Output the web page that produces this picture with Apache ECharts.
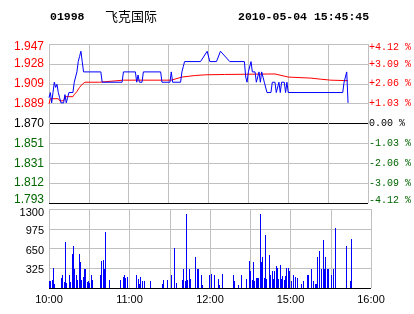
<!DOCTYPE html>
<html>
<head>
<meta charset="utf-8">
<script src="https://cdn.jsdelivr.net/npm/echarts@6/dist/echarts.min.js"></script>
<style>html,body{margin:0;padding:0;background:#fff;}#c{width:414px;height:314px;}</style>
</head>
<body>
<div id="c"></div>
<script>
// ---- header text ----
const stockCode = '01998';
const stockName = '飞克国际';
const stamp = '2010-05-04 15:45:45';

// ---- axis ticks ----
const prevClose = 1.870;
const priceMin = 1.79296, priceMax = 1.94704, priceStep = 0.01926;
const priceTicks = ['1.793', '1.812', '1.831', '1.851', '1.870', '1.889', '1.909', '1.928', '1.947'];
const pctMin = -4.12, pctMax = 4.12, pctStep = 1.03;
const pctTicks = ['-4.12 %', '-3.09 %', '-2.06 %', '-1.03 %', '0.00 %', '+1.03 %', '+2.06 %', '+3.09 %', '+4.12 %'];
const volMax = 1300, volStep = 325;
const volTicks = ['', '325', '650', '975', '1300'];
const timeMax = 240, timeStep = 30; // trading minutes from 10:00 (12:30 joins 14:30)
const timeTicks = ['10:00', '', '11:00', '', '12:00', '', '15:00', '', '16:00'];

// ---- price (blue) : minute index, price ----
const priceMinute = [0, 1, 2, 3, 4, 5, 6, 7, 8, 9, 11, 12, 13, 14, 15, 18, 19, 20, 21, 22, 23, 24, 25, 26, 39, 40, 55, 56, 65, 66, 67, 68, 70, 71, 84, 85, 91, 92, 93, 99, 100, 101, 102, 114, 119, 121, 126, 129, 136, 147, 148, 149, 150, 152, 153, 155, 156, 157, 158, 159, 160, 161, 162, 163, 164, 167, 168, 170, 171, 172, 173, 174, 175, 177, 178, 179, 180, 221, 222, 223, 224, 225];
const priceValue = [1.895, 1.900, 1.890, 1.900, 1.910, 1.905, 1.908, 1.900, 1.895, 1.890, 1.890, 1.898, 1.890, 1.895, 1.900, 1.900, 1.910, 1.910, 1.920, 1.930, 1.935, 1.940, 1.930, 1.920, 1.920, 1.910, 1.910, 1.920, 1.920, 1.910, 1.917, 1.910, 1.910, 1.920, 1.920, 1.910, 1.910, 1.920, 1.910, 1.910, 1.920, 1.925, 1.930, 1.930, 1.940, 1.930, 1.930, 1.940, 1.930, 1.930, 1.915, 1.910, 1.920, 1.930, 1.920, 1.920, 1.910, 1.910, 1.920, 1.910, 1.920, 1.920, 1.910, 1.910, 1.900, 1.900, 1.910, 1.910, 1.900, 1.900, 1.910, 1.900, 1.910, 1.910, 1.900, 1.910, 1.900, 1.900, 1.910, 1.915, 1.920, 1.890];

// ---- average price (red) ----
const avgMinute = [0, 1, 7, 8, 11, 12, 18, 19, 21, 23, 25, 27, 38, 39, 56, 92, 93, 100, 110, 118, 132, 133, 170, 171, 180, 197, 204, 212, 225];
const avgValue = [1.889, 1.894, 1.894, 1.892, 1.892, 1.896, 1.896, 1.898, 1.901, 1.905, 1.908, 1.910, 1.910, 1.9115, 1.912, 1.912, 1.913, 1.915, 1.9165, 1.9172, 1.9175, 1.918, 1.918, 1.9165, 1.915, 1.914, 1.913, 1.912, 1.9115];

// ---- volume ----
const volMinute = [0, 1, 2, 3, 4, 9, 10, 11, 12, 13, 15, 16, 17, 18, 19, 20, 21, 22, 23, 24, 25, 26, 27, 28, 29, 30, 31, 32, 38, 39, 40, 41, 42, 45, 53, 55, 56, 57, 58, 65, 66, 67, 68, 69, 71, 75, 84, 85, 88, 91, 93, 95, 99, 100, 101, 102, 103, 104, 105, 109, 110, 111, 113, 114, 119, 121, 123, 126, 127, 129, 137, 138, 141, 143, 147, 149, 150, 151, 152, 153, 154, 155, 156, 157, 158, 159, 160, 161, 162, 164, 165, 166, 167, 168, 169, 170, 171, 172, 173, 174, 175, 176, 177, 178, 179, 180, 182, 183, 185, 188, 189, 192, 193, 195, 197, 198, 199, 200, 201, 203, 204, 205, 206, 207, 208, 210, 212, 213, 221, 224, 225];
const volValue = [110, 120, 137, 329, 71, 164, 219, 93, 751, 82, 219, 93, 564, 696, 318, 219, 137, 564, 422, 137, 181, 318, 318, 93, 120, 82, 219, 126, 219, 438, 455, 318, 920, 126, 126, 181, 219, 164, 181, 219, 148, 71, 181, 110, 110, 110, 71, 126, 126, 219, 658, 82, 126, 318, 110, 1222, 126, 318, 148, 510, 318, 318, 219, 55, 219, 236, 219, 153, 55, 236, 219, 120, 55, 219, 153, 449, 274, 137, 422, 120, 164, 164, 164, 1222, 422, 510, 164, 877, 153, 548, 219, 274, 153, 274, 356, 329, 153, 384, 148, 192, 137, 203, 329, 329, 274, 110, 219, 181, 164, 71, 120, 219, 219, 318, 120, 71, 71, 510, 614, 318, 795, 318, 510, 318, 318, 219, 318, 986, 685, 110, 805];

const pair = (xs, ys) => xs.map((x, i) => [x, ys[i]]);
const GRAY = '#c0c0c0', RED = '#ff0000', GREEN = '#006600', BLUE = '#0000ff';
const tickIdx = (v, lo, st) => Math.round((v - lo) / st);
const signColor = i => (i > 4 ? RED : (i < 4 ? GREEN : '#000'));

const chart = echarts.init(document.getElementById('c'), null, {renderer: 'canvas'});
chart.setOption({
  animation: false,
  backgroundColor: '#fff',
  graphic: [
    {type: 'text', x: 50, y: 17, style: {text: stockCode, font: 'bold 11.5px "Liberation Mono"', fill: '#000', verticalAlign: 'middle'}},
    {type: 'text', x: 105, y: 16, style: {text: stockName, font: '13px "Noto Sans CJK SC"', fill: '#000', verticalAlign: 'middle'}},
    {type: 'text', x: 238, y: 17, style: {text: stamp, font: 'bold 11.5px "Liberation Mono"', fill: '#000', verticalAlign: 'middle'}}
  ],
  grid: [
    {left: 49, right: 43, top: 44, height: 159},
    {left: 49, right: 43, top: 209, height: 79}
  ],
  xAxis: [
    {type: 'value', gridIndex: 0, min: 0, max: timeMax, interval: timeStep,
     axisLine: {show: false}, axisTick: {show: false}, axisLabel: {show: false},
     splitLine: {show: true, lineStyle: {color: GRAY, width: 1}}},
    {type: 'value', gridIndex: 1, min: 0, max: timeMax, interval: timeStep,
     axisLine: {show: false}, axisTick: {show: false},
     axisLabel: {show: true, margin: 6, color: '#000', fontSize: 11, fontFamily: 'Liberation Sans',
       formatter: v => timeTicks[tickIdx(v, 0, timeStep)] || ''},
     splitLine: {show: true, lineStyle: {color: GRAY, width: 1}}}
  ],
  yAxis: [
    {type: 'value', gridIndex: 0, position: 'left', min: priceMin, max: priceMax, interval: priceStep,
     axisLine: {show: false}, axisTick: {show: false},
     axisLabel: {margin: 5, fontSize: 12, fontFamily: 'Liberation Sans',
       color: v => signColor(tickIdx(v, priceMin, priceStep)),
       formatter: v => {
         const i = tickIdx(v, priceMin, priceStep);
         const s = priceTicks[i] || '';
         if (i === 8) return '{t|' + s + '}';
         if (i === 0) return '{b|' + s + '}';
         return s;
       },
       rich: {t: {padding: [6, 0, 0, 0]}, b: {padding: [0, 0, 6, 0]}}},
     splitLine: {show: true, lineStyle: {width: 1,
       color: ['#000', GRAY, GRAY, GRAY, '#000', GRAY, GRAY, GRAY, GRAY]}}},
    {type: 'value', gridIndex: 0, position: 'right', min: pctMin, max: pctMax, interval: pctStep,
     axisLine: {show: false}, axisTick: {show: false}, splitLine: {show: false},
     axisLabel: {margin: 1, fontSize: 10, fontFamily: 'Liberation Mono',
       color: v => signColor(tickIdx(v, pctMin, pctStep)),
       formatter: v => {
         const i = tickIdx(v, pctMin, pctStep);
         const s = pctTicks[i] || '';
         if (i === 8) return '{t|' + s + '}';
         if (i === 0) return '{b|' + s + '}';
         return s;
       },
       rich: {t: {padding: [6, 0, 0, 0]}, b: {padding: [0, 0, 6, 0]}}}},
    {type: 'value', gridIndex: 1, min: 0, max: volMax, interval: volStep,
     axisLine: {show: false}, axisTick: {show: false},
     axisLabel: {margin: 5, fontSize: 11, fontFamily: 'Liberation Sans', color: '#000',
       formatter: v => {
         const i = tickIdx(v, 0, volStep);
         const s = volTicks[i] || '';
         if (i === 4) return '{t|' + s + '}';
         return '{m|' + s + '}';
       },
       rich: {t: {padding: [8, 0, 0, 0]}, m: {padding: [4, 0, 0, 0]}}},
     splitLine: {show: true, lineStyle: {width: 1, color: ['#000', GRAY, GRAY, GRAY, GRAY]}}}
  ],
  series: [
    {type: 'line', xAxisIndex: 0, yAxisIndex: 0, data: pair(avgMinute, avgValue),
     showSymbol: false, symbol: 'none', lineStyle: {color: RED, width: 1}, z: 3},
    {type: 'line', xAxisIndex: 0, yAxisIndex: 0, data: pair(priceMinute, priceValue),
     showSymbol: false, symbol: 'none', lineStyle: {color: BLUE, width: 1}, z: 4},
    {type: 'custom', xAxisIndex: 1, yAxisIndex: 2, data: pair(volMinute, volValue),
     encode: {x: 0, y: 1}, z: 3,
     renderItem: (params, api) => {
       const top = api.coord([api.value(0), api.value(1)]);
       const base = api.coord([api.value(0), 0]);
       const x = Math.round(top[0]);
       const y = Math.round(top[1]);
       return {type: 'rect', shape: {x: x, y: y, width: 1, height: Math.round(base[1]) - y},
               style: {fill: BLUE}};
     }}
  ]
});
</script>
</body>
</html>
